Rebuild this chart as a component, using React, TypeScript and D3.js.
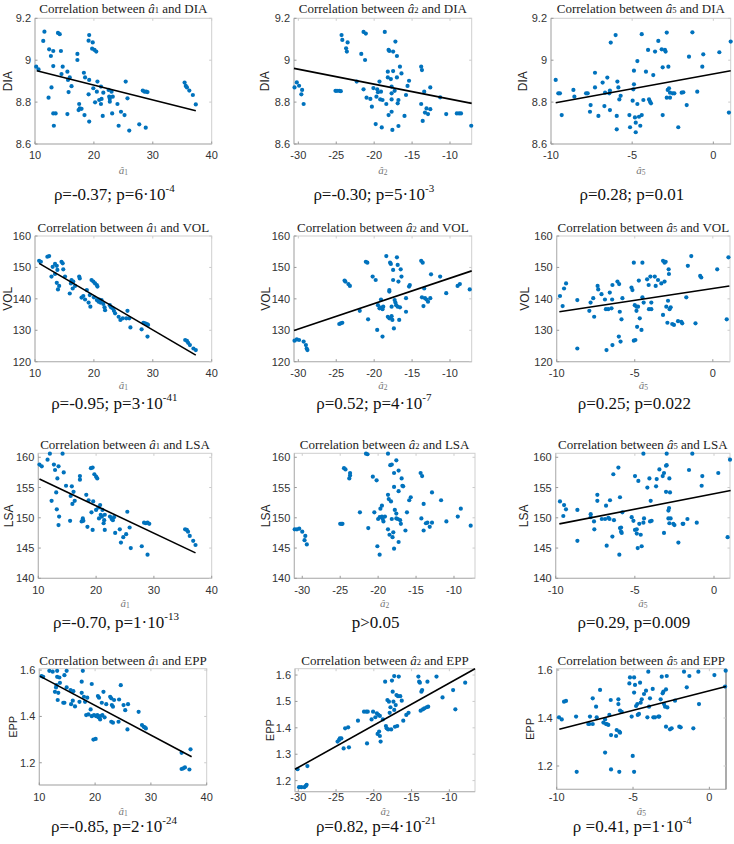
import React from "react";
import * as d3 from "d3";

type Pt = [number, number];

// ---------------- DATA ----------------
const a1_DIA: Pt[] = [[10.2,8.969],[10.6,8.956],[11.6,9.136],[11.4,9.092],[12.4,9.052],[12.7,9.02],[13.1,9.044],[13.1,8.972],[12.8,8.87],[12.3,8.821],[13.1,8.746],[13.5,8.746],[13.2,8.687],[13.9,9.13],[14.2,9.124],[14.4,9.044],[14.5,8.934],[14.7,8.969],[15.5,8.945],[15.6,8.906],[15.9,8.918],[15.7,8.848],[15.5,8.743],[16.2,8.876],[17.2,9.03],[17.2,9.001],[17.5,8.791],[17.4,8.762],[17.6,8.77],[17.9,8.768],[18.3,8.94],[18.5,8.918],[18.4,8.738],[19.2,9.12],[19.1,9.093],[19.8,9.085],[19.7,9.055],[20.1,9.049],[20.4,9.041],[19.2,8.906],[19.1,8.837],[19.2,8.707],[19.9,8.866],[20.6,8.898],[20.5,8.85],[20.2,8.799],[20.9,8.81],[21.2,8.874],[21.3,8.815],[21.2,8.791],[21.5,8.734],[21.6,8.845],[22.5,8.858],[22.6,8.826],[22.7,8.816],[22.7,8.802],[23.0,8.85],[23.2,8.826],[23.1,8.746],[24.0,8.791],[24.2,8.687],[24.6,8.754],[25.2,8.738],[25.4,8.898],[25.7,8.818],[26.0,8.664],[27.7,8.694],[28.3,8.855],[28.6,8.85],[28.8,8.678],[28.9,8.85],[29.1,8.848],[35.4,8.893],[35.6,8.877],[35.8,8.87],[36.2,8.855],[36.8,8.834],[37.3,8.789]];
const a2_DIA: Pt[] = [[-30.5,8.87],[-30.2,8.894],[-29.9,8.878],[-29.5,8.858],[-29.6,8.837],[-29.3,8.791],[-25.1,8.854],[-24.9,8.854],[-24.6,8.854],[-24.4,8.852],[-24.3,9.12],[-24.2,9.097],[-23.5,9.085],[-23.7,9.057],[-23.6,9.041],[-22.3,8.898],[-21.7,9.03],[-21.4,9.135],[-21.1,9.127],[-21.2,9.001],[-21.4,8.861],[-21.0,8.821],[-20.5,8.815],[-20.1,8.867],[-20.3,8.778],[-19.8,8.695],[-19.7,8.826],[-19.6,8.861],[-19.5,8.847],[-19.3,8.898],[-19.2,8.813],[-19.1,8.85],[-19.0,8.679],[-18.9,8.81],[-18.6,9.135],[-18.4,8.791],[-18.2,8.945],[-18.2,8.918],[-18.1,9.049],[-18.0,9.044],[-18.1,8.738],[-17.8,8.91],[-17.7,8.874],[-17.7,8.842],[-17.7,8.813],[-17.7,8.754],[-17.6,8.667],[-17.5,9.041],[-17.5,8.948],[-17.3,8.854],[-17.2,9.089],[-17.0,9.02],[-17.0,8.918],[-16.9,8.794],[-16.8,8.81],[-16.8,8.686],[-16.6,8.969],[-16.4,8.937],[-16.0,8.734],[-15.8,8.834],[-15.6,8.877],[-15.4,8.902],[-13.8,8.969],[-13.7,8.953],[-13.8,8.791],[-13.6,8.71],[-13.4,8.85],[-13.3,8.75],[-13.1,8.77],[-12.9,8.743],[-12.6,8.766],[-12.6,8.87],[-11.3,8.823],[-10.5,8.743],[-9.1,8.746],[-8.8,8.746],[-8.55,8.746],[-7.2,8.687]];
const a5_DIA: Pt[] = [[-9.71,8.906],[-9.55,8.842],[-9.45,8.842],[-9.34,8.738],[-8.62,8.858],[-8.56,8.826],[-7.84,8.842],[-7.74,8.842],[-7.56,8.786],[-7.6,8.754],[-7.29,8.94],[-7.29,8.87],[-7.08,8.734],[-6.82,8.893],[-6.71,8.781],[-6.67,8.845],[-6.53,8.917],[-6.41,8.842],[-6.37,8.855],[-6.37,8.762],[-6.32,9.084],[-6.02,9.12],[-5.95,8.734],[-5.95,8.67],[-5.91,8.898],[-5.85,8.87],[-5.79,8.813],[-5.71,8.83],[-5.17,8.738],[-5.13,8.68],[-4.97,8.807],[-4.93,8.861],[-4.89,8.95],[-4.89,8.885],[-4.83,8.727],[-4.78,8.702],[-4.78,8.656],[-4.68,8.996],[-4.68,8.791],[-4.58,8.73],[-4.5,8.687],[-4.41,8.738],[-4.41,9.124],[-4.31,8.81],[-4.15,8.945],[-4.02,9.049],[-3.96,8.813],[-3.9,8.802],[-3.84,8.794],[-3.7,8.929],[-3.59,9.041],[-3.39,9.092],[-3.18,9.052],[-3.12,8.738],[-3.12,8.966],[-2.98,9.049],[-2.94,9.041],[-2.87,9.132],[-2.87,8.821],[-2.81,8.858],[-2.77,8.969],[-2.73,8.866],[-2.67,8.821],[-2.67,8.845],[-2.5,8.842],[-2.4,8.842],[-2.16,8.68],[-1.95,8.845],[-1.85,8.847],[-1.64,8.786],[-1.5,9.017],[-1.29,9.133],[-0.99,8.85],[-0.68,8.969],[-0.62,9.028],[0.37,9.038],[0.96,8.75],[1.07,9.089]];

const a1_VOL: Pt[] = [[10.7,152.1],[11.0,151.8],[12.1,153.4],[12.4,153.6],[13.0,150.2],[13.4,151.1],[13.7,150.5],[12.8,147.1],[13.4,147.9],[13.8,149.2],[13.7,145.1],[14.1,144.1],[13.9,143.0],[14.5,151.8],[14.7,151.3],[14.8,149.4],[15.1,147.1],[15.9,141.7],[16.1,144.9],[16.2,146.0],[16.4,143.3],[16.5,145.5],[16.8,144.1],[17.5,147.1],[17.6,146.5],[17.9,140.4],[18.2,140.9],[18.5,139.8],[18.8,142.8],[19.1,138.8],[19.6,146.0],[19.9,145.5],[20.2,144.9],[20.5,144.4],[20.6,143.9],[19.3,141.2],[19.4,137.5],[20.0,140.5],[20.5,139.6],[20.8,139.1],[20.9,139.8],[21.1,138.8],[21.3,139.6],[21.6,138.4],[21.8,137.3],[21.9,136.4],[22.7,138.0],[22.9,137.3],[23.2,137.0],[23.4,136.2],[23.6,135.4],[24.2,134.3],[24.5,133.3],[24.9,133.8],[25.5,133.8],[25.7,136.2],[26.0,133.8],[26.2,130.9],[28.1,130.3],[28.4,132.4],[28.7,132.2],[29.0,132.0],[29.2,131.7],[29.1,128.0],[35.5,126.9],[35.8,126.6],[36.0,126.0],[36.3,125.3],[36.9,124.2],[37.3,123.7]];
const a2_VOL: Pt[] = [[-30.5,126.7],[-30.2,127.1],[-29.9,126.9],[-29.3,126.4],[-29.0,125.3],[-28.9,124.2],[-28.8,123.7],[-24.6,132.0],[-24.4,132.2],[-24.2,132.4],[-23.9,145.8],[-23.8,145.5],[-23.4,144.7],[-23.2,144.1],[-21.9,136.2],[-21.1,151.8],[-20.9,151.5],[-20.8,133.5],[-20.2,147.1],[-19.8,146.0],[-19.6,130.1],[-19.5,138.0],[-19.3,137.0],[-19.1,137.2],[-19.1,139.8],[-18.9,136.7],[-18.9,128.0],[-18.8,137.5],[-18.4,153.6],[-18.2,134.3],[-18.0,142.8],[-18.0,142.3],[-18.0,133.8],[-17.9,151.5],[-17.8,151.1],[-17.7,134.5],[-17.7,137.5],[-17.6,133.3],[-17.5,149.2],[-17.5,146.0],[-17.4,130.6],[-17.3,139.6],[-17.2,138.8],[-17.1,138.0],[-16.9,137.5],[-17.0,153.2],[-16.9,150.8],[-16.8,145.5],[-16.7,133.3],[-16.6,137.3],[-16.5,149.4],[-16.4,147.1],[-15.8,135.9],[-15.8,140.2],[-15.4,143.9],[-15.3,144.4],[-13.8,152.1],[-13.6,151.5],[-13.7,140.5],[-13.5,137.7],[-13.4,143.3],[-13.3,140.2],[-13.1,139.8],[-12.9,139.1],[-12.6,140.2],[-12.5,147.8],[-11.3,147.1],[-10.5,141.8],[-9.0,144.1],[-8.7,144.7],[-7.4,143.0]];
const a5_VOL: Pt[] = [[-9.79,140.9],[-9.62,137.7],[-9.53,143.3],[-9.4,144.9],[-8.68,139.6],[-8.68,124.2],[-7.91,136.2],[-7.83,138.8],[-7.66,140.2],[-7.6,134.3],[-7.38,144.1],[-7.34,143.0],[-7.13,141.5],[-6.91,139.8],[-6.85,136.7],[-6.81,123.7],[-6.7,136.7],[-6.6,142.0],[-6.49,137.0],[-6.45,139.8],[-6.43,144.4],[-6.43,125.3],[-6.11,145.5],[-6.02,128.0],[-6.0,144.7],[-5.96,135.9],[-5.91,126.4],[-5.85,133.5],[-5.79,140.2],[-5.21,143.6],[-5.15,142.8],[-5.06,151.5],[-5.0,138.0],[-5.06,126.7],[-4.96,126.9],[-4.89,137.5],[-4.89,136.2],[-4.85,131.1],[-4.79,137.5],[-4.74,145.8],[-4.68,133.8],[-4.57,130.1],[-4.51,151.5],[-4.51,140.5],[-4.43,138.8],[-4.21,146.2],[-4.11,144.4],[-4.09,136.7],[-4.0,147.1],[-3.94,136.7],[-3.94,138.8],[-3.72,147.1],[-3.66,144.1],[-3.51,146.0],[-3.3,144.9],[-3.19,134.9],[-3.19,152.1],[-3.09,151.5],[-3.02,151.8],[-3.09,145.5],[-2.98,137.5],[-2.87,139.4],[-2.91,132.4],[-2.83,149.4],[-2.81,147.9],[-2.77,136.7],[-2.7,137.3],[-2.6,132.0],[-2.49,131.7],[-2.23,132.9],[-2.02,132.7],[-1.96,132.2],[-1.7,140.5],[-1.6,150.5],[-1.38,153.6],[-1.11,132.2],[-0.81,147.3],[-0.74,146.8],[0.28,149.4],[0.89,133.5],[1.0,153.2]];

const a1_LSA: Pt[] = [[10.2,158.8],[10.6,158.5],[11.6,159.6],[12.0,160.6],[12.3,152.8],[12.7,158.8],[12.9,157.9],[13.1,154.2],[13.2,151.4],[13.3,156.5],[13.5,158.5],[13.5,148.8],[13.6,150.2],[14.2,160.6],[14.4,157.5],[14.8,155.3],[15.5,149.5],[15.6,153.6],[15.8,155.2],[15.9,152.3],[16.1,154.3],[16.3,152.8],[17.2,156.9],[17.2,156.3],[17.5,149.4],[17.7,149.9],[17.8,149.5],[18.3,153.8],[18.5,148.5],[18.7,152.9],[19.1,158.2],[19.4,158.3],[19.2,150.9],[19.4,148.0],[19.5,152.7],[19.7,157.2],[20.0,156.8],[20.2,156.5],[20.0,151.3],[20.4,151.7],[20.5,149.9],[20.7,152.1],[20.8,150.5],[21.0,150.2],[21.1,151.3],[21.3,149.1],[21.4,149.6],[21.5,150.5],[21.5,148.0],[22.4,150.2],[22.7,149.8],[22.9,149.6],[23.1,150.1],[23.3,147.5],[24.1,148.1],[24.3,145.9],[24.7,146.8],[25.2,147.3],[25.4,151.0],[25.8,148.4],[26.0,145.0],[27.9,145.3],[28.3,149.2],[28.6,149.1],[28.9,149.2],[29.2,149.0],[28.9,143.9],[35.4,148.1],[35.7,148.0],[35.9,147.7],[36.2,147.0],[36.8,146.2],[37.2,145.5]];
const a2_LSA: Pt[] = [[-31.0,148.1],[-30.7,148.1],[-30.4,148.2],[-30.0,147.7],[-29.6,147.0],[-29.7,146.3],[-29.4,145.6],[-25.0,149.0],[-24.8,149.0],[-24.7,149.0],[-24.5,158.2],[-24.3,158.0],[-23.7,157.4],[-23.7,157.0],[-23.8,156.5],[-22.4,150.9],[-21.6,160.6],[-21.4,160.5],[-21.3,148.3],[-20.7,156.8],[-20.5,150.9],[-20.2,156.2],[-20.1,145.3],[-20.0,149.8],[-19.8,150.1],[-19.7,151.5],[-19.5,152.0],[-19.8,143.9],[-19.5,150.2],[-19.4,149.8],[-19.3,149.4],[-19.1,150.2],[-18.7,160.6],[-18.7,153.8],[-18.7,148.1],[-18.6,153.1],[-18.3,152.7],[-18.5,147.2],[-18.4,158.7],[-18.2,158.8],[-18.2,149.8],[-18.1,146.8],[-18.0,147.6],[-17.9,157.4],[-17.9,155.1],[-17.9,144.9],[-17.8,151.3],[-17.6,150.7],[-17.6,149.9],[-17.4,149.8],[-17.6,159.5],[-17.3,157.8],[-17.3,146.0],[-17.3,154.4],[-17.1,149.6],[-17.0,149.0],[-16.9,156.5],[-16.8,155.3],[-16.7,155.2],[-16.4,147.9],[-16.2,150.9],[-15.9,152.9],[-15.7,153.4],[-14.4,157.4],[-14.2,156.9],[-14.3,149.9],[-14.0,147.9],[-14.0,152.3],[-13.7,149.1],[-13.5,149.2],[-13.2,148.5],[-12.9,154.2],[-12.9,149.2],[-11.7,152.9],[-11.0,149.4],[-9.5,150.2],[-9.1,151.5],[-7.8,148.7]];
const a5_LSA: Pt[] = [[-9.73,152.7],[-9.47,152.1],[-9.52,150.3],[-9.35,151.4],[-8.63,151.3],[-8.63,146.2],[-7.79,150.6],[-7.79,150.1],[-7.58,149.4],[-7.56,148.1],[-7.37,153.8],[-7.37,152.8],[-7.09,149.8],[-6.88,149.8],[-6.82,152.0],[-6.78,145.4],[-6.67,150.0],[-6.6,149.8],[-6.57,152.9],[-6.42,146.9],[-6.36,157.2],[-6.32,149.6],[-6.04,158.3],[-5.98,143.9],[-5.94,153.4],[-5.94,148.3],[-5.87,148.4],[-5.87,147.7],[-5.83,147.5],[-5.79,150.9],[-5.2,150.1],[-5.09,149.5],[-4.99,156.9],[-4.99,148.0],[-4.88,148.1],[-4.88,147.4],[-4.78,156.1],[-4.82,145.0],[-4.72,149.0],[-4.63,147.2],[-4.57,145.3],[-4.46,160.6],[-4.46,149.2],[-4.42,149.9],[-4.21,155.0],[-4.08,156.5],[-4.0,152.8],[-4.04,149.4],[-3.94,149.5],[-3.66,155.2],[-3.62,156.4],[-3.45,158.0],[-3.24,156.9],[-3.16,157.4],[-3.16,147.5],[-3.03,158.6],[-2.99,158.7],[-2.99,160.6],[-3.03,154.3],[-2.88,151.2],[-2.84,151.6],[-2.88,149.9],[-2.82,149.1],[-2.82,156.5],[-2.78,154.2],[-2.74,149.9],[-2.57,149.0],[-2.5,148.8],[-2.25,145.9],[-1.98,149.0],[-1.94,149.0],[-1.68,149.8],[-1.58,157.9],[-1.37,160.6],[-1.09,149.2],[-0.78,155.3],[-0.74,156.9],[0.27,157.4],[0.86,146.8],[1.01,159.6]];

const a1_EPP: Pt[] = [[10.4,1.574],[10.7,1.571],[11.8,1.597],[12.4,1.593],[12.8,1.506],[13.0,1.525],[13.1,1.535],[13.2,1.571],[13.3,1.471],[13.4,1.502],[13.6,1.568],[13.7,1.545],[13.2,1.597],[14.3,1.459],[14.5,1.459],[14.5,1.578],[14.9,1.597],[14.9,1.525],[15.6,1.514],[15.7,1.453],[16.0,1.468],[16.1,1.509],[16.4,1.443],[17.2,1.463],[17.6,1.502],[17.6,1.55],[17.8,1.597],[18.0,1.485],[18.2,1.463],[18.4,1.406],[18.6,1.481],[18.8,1.409],[19.2,1.43],[19.4,1.54],[19.4,1.401],[19.8,1.406],[20.2,1.401],[20.4,1.406],[20.6,1.396],[20.9,1.401],[19.7,1.3],[20.1,1.303],[20.5,1.488],[20.7,1.481],[20.9,1.387],[21.2,1.459],[21.3,1.406],[21.5,1.506],[21.7,1.396],[22.0,1.453],[22.7,1.485],[22.9,1.478],[23.0,1.449],[23.2,1.442],[22.9,1.377],[23.2,1.373],[23.4,1.471],[24.2,1.377],[24.3,1.473],[24.6,1.535],[25.1,1.449],[25.4,1.427],[25.8,1.344],[25.9,1.453],[27.8,1.42],[28.4,1.363],[28.7,1.355],[28.9,1.353],[29.1,1.348],[35.5,1.173],[35.8,1.176],[36.1,1.18],[35.5,1.243],[36.9,1.171],[37.1,1.258]];
const a2_EPP: Pt[] = [[-30.1,1.243],[-29.9,1.175],[-29.6,1.175],[-29.2,1.175],[-29.0,1.18],[-28.9,1.184],[-28.8,1.255],[-24.8,1.348],[-24.6,1.354],[-24.5,1.36],[-24.3,1.36],[-24.0,1.322],[-23.8,1.398],[-23.4,1.402],[-23.3,1.326],[-22.1,1.427],[-21.3,1.461],[-21.0,1.461],[-20.8,1.461],[-20.9,1.341],[-20.3,1.432],[-20.1,1.461],[-19.8,1.44],[-19.6,1.455],[-19.5,1.377],[-19.4,1.449],[-19.2,1.445],[-19.3,1.386],[-19.2,1.369],[-19.1,1.348],[-18.8,1.432],[-18.5,1.575],[-18.4,1.407],[-18.3,1.398],[-18.1,1.394],[-18.2,1.505],[-18.0,1.499],[-17.9,1.457],[-17.8,1.478],[-17.7,1.394],[-17.6,1.579],[-17.5,1.537],[-17.4,1.499],[-17.3,1.468],[-17.3,1.596],[-17.2,1.404],[-17.1,1.486],[-17.0,1.524],[-16.8,1.52],[-16.9,1.407],[-16.7,1.594],[-16.5,1.52],[-16.3,1.503],[-16.1,1.427],[-15.7,1.449],[-15.4,1.457],[-14.1,1.594],[-14.0,1.575],[-13.9,1.571],[-13.7,1.537],[-13.6,1.543],[-13.8,1.465],[-13.5,1.47],[-13.3,1.474],[-13.0,1.478],[-12.8,1.48],[-12.9,1.575],[-11.7,1.594],[-10.9,1.515],[-9.5,1.543],[-9.2,1.47],[-7.9,1.571]];
const a5_EPP: Pt[] = [[-9.85,1.403],[-9.67,1.394],[-9.52,1.468],[-9.39,1.471],[-8.73,1.406],[-8.69,1.176],[-7.93,1.375],[-7.86,1.375],[-7.82,1.406],[-7.64,1.482],[-7.64,1.375],[-7.42,1.447],[-7.38,1.403],[-7.16,1.517],[-6.94,1.381],[-6.83,1.394],[-6.77,1.375],[-6.72,1.375],[-6.62,1.371],[-6.83,1.256],[-6.55,1.413],[-6.46,1.475],[-6.44,1.329],[-6.44,1.186],[-6.11,1.325],[-6.07,1.35],[-5.96,1.478],[-5.96,1.458],[-5.9,1.176],[-5.9,1.343],[-5.85,1.339],[-5.85,1.431],[-5.74,1.426],[-5.24,1.544],[-5.2,1.569],[-4.93,1.569],[-5.09,1.406],[-5.02,1.242],[-4.93,1.176],[-4.93,1.506],[-4.87,1.538],[-4.8,1.45],[-4.72,1.458],[-4.69,1.413],[-4.61,1.417],[-4.54,1.547],[-4.5,1.464],[-4.43,1.478],[-4.28,1.5],[-4.15,1.514],[-4.06,1.403],[-4.0,1.593],[-3.95,1.447],[-3.89,1.482],[-3.71,1.521],[-3.67,1.403],[-3.56,1.403],[-3.34,1.406],[-3.28,1.406],[-3.19,1.478],[-3.12,1.572],[-3.06,1.503],[-3.01,1.51],[-2.97,1.458],[-2.9,1.447],[-2.84,1.519],[-2.84,1.364],[-2.79,1.575],[-2.75,1.444],[-2.58,1.353],[-2.47,1.357],[-2.25,1.472],[-1.97,1.364],[-1.88,1.361],[-1.66,1.593],[-1.48,1.528],[-1.31,1.575],[-1.05,1.357],[-0.72,1.593],[-0.68,1.458],[0.33,1.579],[1.03,1.531],[1.07,1.597]];

// regression lines (end points)
const fit_a1_DIA: Pt[] = [[10.3,8.95],[37.3,8.759]];
const fit_a2_DIA: Pt[] = [[-30.57,8.961],[-7.14,8.794]];
const fit_a5_DIA: Pt[] = [[-9.71,8.797],[1.07,8.95]];
const fit_a1_VOL: Pt[] = [[10.7,151.3],[37.3,122.1]];
const fit_a2_VOL: Pt[] = [[-30.57,129.9],[-7.14,148.9]];
const fit_a5_VOL: Pt[] = [[-9.83,135.9],[1.06,144.1]];
const fit_a1_LSA: Pt[] = [[10.2,156.4],[37.2,144.2]];
const fit_a5_LSA: Pt[] = [[-9.77,149.0],[1.05,154.5]];
const fit_a1_EPP: Pt[] = [[10.1,1.574],[37.3,1.226]];
const fit_a2_EPP: Pt[] = [[-30.44,1.243],[-6.6,1.624]];
const fit_a5_EPP: Pt[] = [[-9.83,1.353],[1.09,1.531]];

// tick values
const xTicksA1 = [10, 20, 30, 40];
const xTicksA2 = [-30, -25, -20, -15, -10];
const xTicksA5 = [-10, -5, 0];
const yTicksDIA = [8.6, 8.8, 9, 9.2];
const yTicksVOL = [120, 130, 140, 150, 160];
const yTicksLSA = [140, 145, 150, 155, 160];
const yTicksEPP = [1.2, 1.4, 1.6];
const yTicksEPP2 = [1.2, 1.3, 1.4, 1.5, 1.6];

// statistics text [base, superscript]
const stat_a1_DIA = ["ρ=-0.37; p=6·10", "-4"];
const stat_a2_DIA = ["ρ=-0.30; p=5·10", "-3"];
const stat_a5_DIA = ["ρ=0.28; p=0.01", ""];
const stat_a1_VOL = ["ρ=-0.95; p=3·10", "-41"];
const stat_a2_VOL = ["ρ=0.52; p=4·10", "-7"];
const stat_a5_VOL = ["ρ=0.25; p=0.022", ""];
const stat_a1_LSA = ["ρ=-0.70, p=1·10", "-13"];
const stat_a2_LSA = ["p>0.05", ""];
const stat_a5_LSA = ["ρ=0.29, p=0.009", ""];
const stat_a1_EPP = ["ρ=-0.85, p=2·10", "-24"];
const stat_a2_EPP = ["ρ=0.82, p=4·10", "-21"];
const stat_a5_EPP = ["ρ =0.41, p=1·10", "-4"];

// ---------------- LAYOUT ----------------
const rowText = [
  { title: 7.5, tick: 154.5, xlab: 170, stat: 193.5 },
  { title: 227, tick: 373.3, xlab: 385, stat: 403 },
  { title: 444, tick: 590, xlab: 603, stat: 622 },
  { title: 660, tick: 797, xlab: 811, stat: 826 },
];

const panels = [
  { data: a1_DIA, fit: fit_a1_DIA, sub: "1", yName: "DIA", xd: [10, 40], yd: [8.6, 9.2], xt: xTicksA1, yt: yTicksDIA, stat: stat_a1_DIA, box: [35, 211.7, 18.3, 144], row: 0, yl: 27.5 },
  { data: a2_DIA, fit: fit_a2_DIA, sub: "2", yName: "DIA", xd: [-30.57, -7.14], yd: [8.6, 9.2], xt: xTicksA2, yt: yTicksDIA, stat: stat_a2_DIA, box: [294, 471.7, 18.3, 144], row: 0, yl: 29 },
  { data: a5_DIA, fit: fit_a5_DIA, sub: "5", yName: "DIA", xd: [-10, 1.07], yd: [8.6, 9.2], xt: xTicksA5, yt: yTicksDIA, stat: stat_a5_DIA, box: [551, 730.7, 18.3, 144], row: 0, yl: 28 },
  { data: a1_VOL, fit: fit_a1_VOL, sub: "1", yName: "VOL", xd: [10, 40], yd: [120, 160], xt: xTicksA1, yt: yTicksVOL, stat: stat_a1_VOL, box: [35, 211.7, 236, 361.7], row: 1, yl: 27.5 },
  { data: a2_VOL, fit: fit_a2_VOL, sub: "2", yName: "VOL", xd: [-30.57, -7.14], yd: [120, 160], xt: xTicksA2, yt: yTicksVOL, stat: stat_a2_VOL, box: [294, 471.7, 236, 361.7], row: 1, yl: 28.5 },
  { data: a5_VOL, fit: fit_a5_VOL, sub: "5", yName: "VOL", xd: [-10, 1.1], yd: [120, 160], xt: xTicksA5, yt: yTicksVOL, stat: stat_a5_VOL, box: [556.7, 730, 236, 361.7], row: 1, yl: 31.5 },
  { data: a1_LSA, fit: fit_a1_LSA, sub: "1", yName: "LSA", xd: [10, 40], yd: [140, 160.66], xt: xTicksA1, yt: yTicksLSA, stat: stat_a1_LSA, box: [38.3, 211.7, 453.3, 578.3], row: 2, yl: 29 },
  { data: a2_LSA, fit: null, sub: "2", yName: "LSA", xd: [-31.05, -7.23], yd: [140, 160.66], xt: xTicksA2, yt: yTicksLSA, stat: stat_a2_LSA, box: [294.3, 475, 453.3, 578.3], row: 2, yl: 28.5 },
  { data: a5_LSA, fit: fit_a5_LSA, sub: "5", yName: "LSA", xd: [-10, 1.01], yd: [140, 160.66], xt: xTicksA5, yt: yTicksLSA, stat: stat_a5_LSA, box: [555.7, 730, 453.3, 578.3], row: 2, yl: 31.5 },
  { data: a1_EPP, fit: fit_a1_EPP, sub: "1", yName: "EPP", xd: [10, 40], yd: [1.104, 1.606], xt: xTicksA1, yt: yTicksEPP, stat: stat_a1_EPP, box: [39.3, 206.7, 668.7, 785], row: 3, yl: 26 },
  { data: a2_EPP, fit: fit_a2_EPP, sub: "2", yName: "EPP", xd: [-30.44, -6.6], yd: [1.158, 1.624], xt: xTicksA2, yt: yTicksEPP2, stat: stat_a2_EPP, box: [295, 475, 668.7, 791.7], row: 3, yl: 25 },
  { data: a5_EPP, fit: fit_a5_EPP, sub: "5", yName: "EPP", xd: [-10, 1.09], yd: [1.103, 1.6054], xt: xTicksA5, yt: yTicksEPP, stat: stat_a5_EPP, box: [556.7, 726, 668.7, 789.3], row: 3, yl: 27, edge: true },
];

const SANS = "'Liberation Sans', Arial, Helvetica, sans-serif";
const SERIF = "'Liberation Serif', 'Times New Roman', serif";
const BLUE = "#0072BD";

function Panel({ p }: { p: any }) {
  const [l, r, t, b] = p.box;
  const x = d3.scaleLinear().domain(p.xd).range([l, r]);
  const y = d3.scaleLinear().domain(p.yd).range([b, t]);
  const rt = rowText[p.row];
  const cx = (l + r) / 2;
  const cy = (t + b) / 2;
  const line = d3.line<Pt>().x((d) => x(d[0])).y((d) => y(d[1]));
  return (
    <g>
      <rect x={l} y={t} width={r - l} height={b - t} fill="none" stroke="#cfcfcf" strokeWidth={1} />
      <line x1={l} x2={l} y1={t} y2={b} stroke="#b5b5b5" />
      <line x1={l} x2={r} y1={b} y2={b} stroke="#b5b5b5" />
      {p.edge && <line x1={r} x2={r} y1={t} y2={b} stroke="#8a8a8a" strokeWidth={1.3} />}
      {p.xt.map((v: number) => (
        <g key={"x" + v}>
          <line x1={x(v)} x2={x(v)} y1={b} y2={b - 2.5} stroke="#999" />
          <line x1={x(v)} x2={x(v)} y1={t} y2={t + 2.5} stroke="#ccc" />
          <text x={x(v)} y={rt.tick} textAnchor="middle" dominantBaseline="central" fontFamily={SANS} fontSize={11} fill="#333">
            {String(v)}
          </text>
        </g>
      ))}
      {p.yt.map((v: number) => (
        <g key={"y" + v}>
          <line x1={l} x2={l + 2.5} y1={y(v)} y2={y(v)} stroke="#999" />
          <line x1={r} x2={r - 2.5} y1={y(v)} y2={y(v)} stroke="#ccc" />
          <text x={l - 4} y={y(v)} textAnchor="end" dominantBaseline="central" fontFamily={SANS} fontSize={11} fill="#333">
            {String(v)}
          </text>
        </g>
      ))}
      {p.data.map((d: Pt, i: number) => (
        <circle key={i} cx={x(d[0])} cy={y(d[1])} r={2.1} fill={BLUE} />
      ))}
      {p.fit && <path d={line(p.fit) || ""} stroke="#000" strokeWidth={1.6} fill="none" />}
      <text x={cx} y={rt.title} textAnchor="middle" dominantBaseline="central" fontFamily={SERIF} fontSize={13} fill="#222">
        <tspan>Correlation between </tspan>
        <tspan fontStyle="italic">â</tspan>
        <tspan fontSize={8.5} dy={2}>{p.sub}</tspan>
        <tspan dy={-2}> and {p.yName}</tspan>
      </text>
      <text
        transform={`translate(${l - p.yl},${cy}) rotate(-90)`}
        textAnchor="middle"
        dominantBaseline="central"
        fontFamily={SANS}
        fontSize={p.row === 3 ? 11 : 12}
        fill="#262626"
      >
        {p.yName}
      </text>
      <text x={cx} y={rt.xlab} textAnchor="middle" dominantBaseline="central" fontFamily={SERIF} fontSize={11} fill="#777">
        <tspan fontStyle="italic">â</tspan>
        <tspan fontSize={7.5} dy={2}>{p.sub}</tspan>
      </text>
      <text x={cx - 9} y={rt.stat} textAnchor="middle" dominantBaseline="central" fontFamily={SERIF} fontSize={17} fill="#111">
        <tspan>{p.stat[0]}</tspan>
        {p.stat[1] && (
          <tspan fontSize={11} dy={-6}>
            {p.stat[1]}
          </tspan>
        )}
      </text>
    </g>
  );
}

export default function App() {
  return (
    <svg
      width={734}
      height={844}
      viewBox="0 0 734 844"
      style={{ position: "absolute", left: 0, top: 0, background: "#fff" }}
    >
      <rect x={0} y={0} width={734} height={844} fill="#fff" />
      {panels.map((p, i) => (
        <Panel key={i} p={p} />
      ))}
    </svg>
  );
}
